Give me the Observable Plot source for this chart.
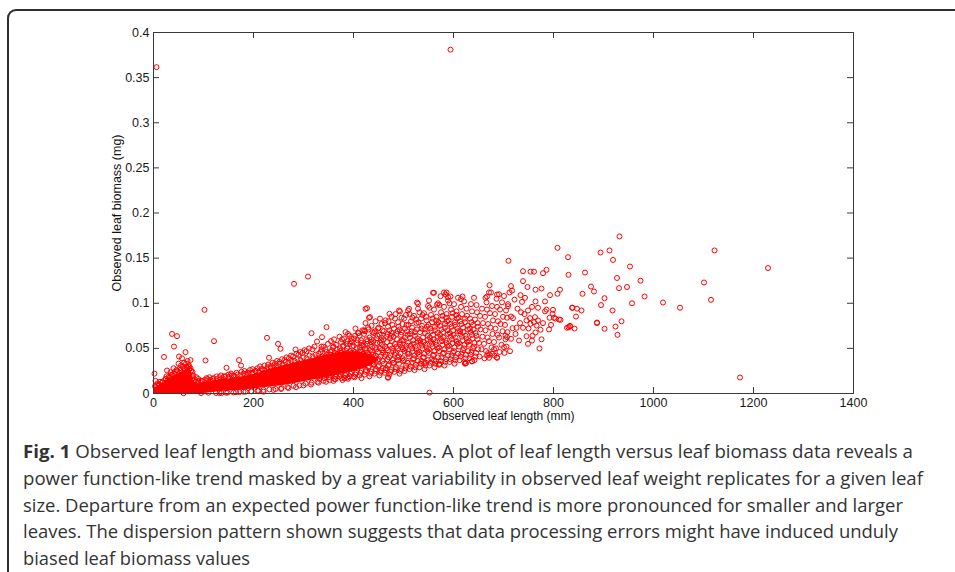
<!DOCTYPE html>
<html><head><meta charset="utf-8">
<script src="https://cdn.jsdelivr.net/npm/d3@7"></script>
<script src="https://cdn.jsdelivr.net/npm/@observablehq/plot@0.6"></script>
<style>
html,body{margin:0;padding:0;background:#fff;width:955px;height:572px;overflow:hidden;}
#chart{position:absolute;left:0;top:0;}
#card{position:absolute;left:7px;top:9px;width:1000px;height:620px;border-left:2px solid #2e2e2e;border-top:2px solid #2e2e2e;border-top-left-radius:9px;box-sizing:border-box;z-index:2;pointer-events:none;}
#caption{position:absolute;left:0;top:430px;}
#caption text{font-family:"Open Sans",sans-serif;font-size:18.5px;fill:#333;}
</style></head><body>
<div id="chart"></div>
<div id="card"></div>
<svg id="caption" width="955" height="142">
<text x="23" y="28" textLength="890" lengthAdjust="spacingAndGlyphs"><tspan font-weight="bold">Fig. 1</tspan> Observed leaf length and biomass values. A plot of leaf length versus leaf biomass data reveals a</text>
<text x="23" y="55" textLength="900" lengthAdjust="spacingAndGlyphs">power function-like trend masked by a great variability in observed leaf weight replicates for a given leaf</text>
<text x="23" y="81.7" textLength="880" lengthAdjust="spacingAndGlyphs">size. Departure from an expected power function-like trend is more pronounced for smaller and larger</text>
<text x="23" y="108.3" textLength="875" lengthAdjust="spacingAndGlyphs">leaves. The dispersion pattern shown suggests that data processing errors might have induced unduly</text>
<text x="23" y="135" textLength="227" lengthAdjust="spacingAndGlyphs">biased leaf biomass values</text>
</svg>
<script>
// ---- axis ticks and labels ----
const xTicks = [0, 200, 400, 600, 800, 1000, 1200, 1400];
const xTickLabels = ["0", "200", "400", "600", "800", "1000", "1200", "1400"];
const yTicks = [0, 0.05, 0.1, 0.15, 0.2, 0.25, 0.3, 0.35, 0.4];
const yTickLabels = ["0", "0.05", "0.1", "0.15", "0.2", "0.25", "0.3", "0.35", "0.4"];
const xAxisLabel = "Observed leaf length (mm)";
const yAxisLabel = "Observed leaf biomass (mg)";

// ---- saturated core of overlapping observations (leaf length, biomass range) ----
const coreLength = [0, 10, 20, 30, 40, 50, 60, 70, 75, 80, 86, 100, 130, 160, 200, 230, 260, 290, 320, 350, 380, 410, 435, 450];
const coreLow    = [0, 0, 0, 0, 0, 0, 0, 0, 0, 0, 0, 0, 0.002, 0.003, 0.005, 0.007, 0.009, 0.012, 0.015, 0.018, 0.022, 0.026, 0.031, 0.036];
const coreHigh   = [0.006, 0.008, 0.012, 0.016, 0.019, 0.022, 0.025, 0.026, 0.024, 0.016, 0.011, 0.012, 0.015, 0.017, 0.021, 0.026, 0.031, 0.035, 0.039, 0.043, 0.046, 0.046, 0.043, 0.038];

// ---- small leaves and edges of the dense core [length mm, biomass mg] ----
const smallLeafPoints = [
[2,0.022],[4,0.014],[6,0.3616],[8,0.011],[11,0.009],[13,0.013],[17,0.012],[21,0.0405],[24,0.016],[27,0.0255],
[29,0.015],[34,0.0236],[33,0.018],[37,0.066],[38,0.021],[41,0.052],[43,0.024],[47,0.0635],[46,0.026],[51,0.041],
[53,0.028],[55,0.031],[57,0.039],[59,0.030],[62,0.027],[64,0.0458],[65,0.033],[67,0.029],[68,0.036],[71,0.031],
[72,0.027],[74,0.037],[75,0.025],[77,0.020],[79,0.017],[80,0.014],[86,0.018],[90,0.016],[97,0.014],[102,0.0927],
[104,0.0366],[106,0.017],[112,0.018],[118,0.016],[121,0.058],[126,0.019],[132,0.0005],[135,0.020],[141,0.019],[146,0.0285],
[150,0.021],[155,0.022],[160,0.020],[166,0.023],[171,0.037],[175,0.031],[176,0.024],[182,0.025],[188,0.023],[193,0.026],
[198,0.027],[204,0.025],[208,0.028],[213,0.030],[218,0.027],[222,0.031],[227,0.0617],[229,0.032],[231,0.0396],[234,0.030],
[238,0.034],[243,0.033],[247,0.036],[249,0.055],[252,0.035],[254,0.0495],[257,0.038],[262,0.037],[266,0.040],[271,0.039],
[275,0.042],[279,0.041],[281,0.1215],[284,0.0488],[286,0.044],[290,0.043],[294,0.046],[298,0.045],[302,0.048],[306,0.047],
[309,0.1296],[311,0.050],[316,0.0668],[318,0.049],[322,0.052],[327,0.0576],[337,0.0624],[346,0.0735],[384,0.068],[421,0.070],
[60,0.0003],[95,0.0005],[110,0.0008],[125,0.0006],[145,0.001],[165,0.0015],[180,0.002],[195,0.0025],[210,0.003],[220,0.002],
[240,0.004],[255,0.005],[270,0.006],[285,0.007],[300,0.009],[315,0.010],[330,0.012],[345,0.013],[360,0.014],[389,0.0163],
[3,0.008],[7,0.009],[12,0.010],[18,0.013],[24,0.016],[30,0.018],[36,0.021],[42,0.022],[48,0.025],[54,0.026],
[60,0.028],[66,0.029],[70,0.030],[74,0.028],[78,0.024],[80,0.020],[14,0.006],[22,0.008],[32,0.011],[44,0.016],
[56,0.020],[63,0.022],[69,0.024],[26,0.019],[40,0.028],[50,0.033],[61,0.034],
[85,0.013],[90,0.014],[90,0.012],[96,0.014],[102,0.015],[108,0.016],[114,0.015],[120,0.017],[126,0.016],[132,0.018],
[138,0.017],[144,0.019],[150,0.018],[156,0.020],[162,0.019],[168,0.021],[174,0.020],[180,0.022],[186,0.021],[192,0.023],
[198,0.023],[204,0.025],[210,0.024],[216,0.027],[222,0.026],[228,0.029],[234,0.028],[240,0.031],[246,0.030],[252,0.033],
[258,0.032],[264,0.035],[270,0.034],[276,0.036],[282,0.036],[288,0.038],[294,0.037],[300,0.040],[306,0.039],[312,0.042],
[318,0.041],[324,0.043],
[136,0.0005],[148,0.001],[160,0.0012],[172,0.0015],[184,0.002],[196,0.0025],[208,0.003],[220,0.004],[232,0.0045],[244,0.005],
[256,0.006],[268,0.007],[280,0.0085],[292,0.009],[304,0.011],[316,0.012],[328,0.013],[340,0.014],[352,0.015],[364,0.016],
[376,0.017],[388,0.018],[400,0.019]
];

// ---- middle-sized leaves, the main cloud [length mm, biomass mg] ----
const midLeafPoints = [
[332,0.016],[335,0.021],[331,0.027],[337,0.031],[333,0.036],[338,0.041],[334,0.046],[336,0.052],[339,0.024],[330,0.044],
[342,0.017],[345,0.023],[341,0.029],[348,0.034],[343,0.038],[347,0.043],[344,0.049],[349,0.055],[346,0.020],[341,0.040],
[351,0.018],[356,0.022],[353,0.027],[358,0.032],[352,0.037],[357,0.041],[354,0.046],[359,0.051],[355,0.058],[352,0.025],
[362,0.016],[366,0.021],[361,0.026],[368,0.030],[364,0.035],[369,0.040],[363,0.045],[367,0.049],[365,0.054],[361,0.060],[368,0.025],
[372,0.019],[376,0.024],[371,0.028],[378,0.033],[374,0.037],[377,0.042],[373,0.047],[379,0.052],[375,0.057],[372,0.063],[378,0.015],
[382,0.017],[385,0.022],[381,0.027],[388,0.031],[384,0.036],[389,0.040],[383,0.044],[387,0.050],[386,0.055],[381,0.061],[389,0.066],[384,0.026],
[392,0.019],[396,0.024],[391,0.029],[398,0.034],[394,0.038],[399,0.043],[393,0.047],[397,0.052],[395,0.058],[392,0.064],[398,0.028],
[402,0.018],[405,0.023],[401,0.028],[408,0.032],[404,0.037],[409,0.041],[403,0.046],[407,0.050],[406,0.056],[401,0.061],[409,0.067],[404,0.072],
[412,0.020],[416,0.025],[411,0.030],[418,0.035],[414,0.039],[419,0.044],[413,0.048],[417,0.053],[415,0.059],[412,0.064],[418,0.070],[416,0.017],
[422,0.021],[425,0.026],[421,0.031],[428,0.036],[424,0.040],[429,0.045],[423,0.050],[427,0.055],[426,0.060],[421,0.066],[429,0.073],[424,0.078],
[432,0.019],[436,0.024],[431,0.030],[438,0.034],[434,0.039],[439,0.043],[433,0.048],[437,0.052],[435,0.057],[432,0.062],[438,0.068],[436,0.075],
[442,0.022],[445,0.027],[441,0.032],[448,0.037],[444,0.042],[449,0.046],[443,0.051],[447,0.056],[446,0.061],[441,0.067],[449,0.072],[444,0.080],
[452,0.020],[456,0.025],[451,0.031],[458,0.036],[454,0.041],[459,0.045],[453,0.050],[457,0.054],[455,0.059],[452,0.065],[458,0.070],[456,0.077],[453,0.083],
[462,0.023],[465,0.028],[461,0.033],[468,0.038],[464,0.043],[469,0.048],[463,0.052],[467,0.057],[466,0.063],[461,0.069],[469,0.074],[464,0.081],
[472,0.021],[476,0.026],[471,0.032],[478,0.037],[474,0.042],[479,0.047],[473,0.053],[477,0.058],[475,0.064],[472,0.070],[478,0.076],[476,0.085],
[482,0.024],[485,0.029],[481,0.034],[488,0.040],[484,0.045],[489,0.050],[483,0.055],[487,0.060],[486,0.066],[481,0.072],[489,0.079],[484,0.088],
[492,0.022],[496,0.027],[491,0.033],[498,0.039],[494,0.044],[499,0.049],[493,0.054],[497,0.059],[495,0.065],[492,0.071],[498,0.077],[496,0.084],[493,0.091],
[502,0.025],[505,0.031],[501,0.037],[508,0.044],[504,0.050],[509,0.056],[503,0.062],[507,0.069],[506,0.076],[501,0.083],[509,0.092],
[512,0.027],[516,0.034],[511,0.041],[518,0.047],[514,0.053],[519,0.059],[513,0.066],[517,0.073],[515,0.080],[512,0.088],
[522,0.026],[525,0.032],[521,0.039],[528,0.045],[524,0.052],[529,0.058],[523,0.064],[527,0.071],[526,0.078],[521,0.086],[529,0.094],
[532,0.029],[536,0.036],[531,0.043],[538,0.050],[534,0.056],[539,0.062],[533,0.068],[537,0.075],[535,0.083],[532,0.090],
[542,0.027],[545,0.034],[541,0.040],[548,0.047],[544,0.054],[549,0.060],[543,0.067],[547,0.074],[546,0.081],[541,0.089],[549,0.097],
[552,0.031],[556,0.038],[551,0.045],[558,0.052],[554,0.058],[559,0.065],[553,0.072],[557,0.079],[555,0.087],[552,0.095],
[562,0.029],[565,0.036],[561,0.043],[568,0.050],[564,0.057],[569,0.063],[563,0.070],[567,0.077],[566,0.085],[561,0.093],[569,0.100],
[572,0.033],[576,0.040],[571,0.047],[578,0.054],[574,0.061],[579,0.068],[573,0.075],[577,0.082],[575,0.090],[572,0.098],
[582,0.031],[585,0.038],[581,0.045],[588,0.052],[584,0.059],[589,0.066],[583,0.073],[587,0.080],[586,0.088],[581,0.096],[589,0.103],
[592,0.035],[596,0.042],[591,0.049],[598,0.056],[594,0.063],[599,0.070],[593,0.077],[597,0.085],[595,0.093],[592,0.100],
[602,0.033],[605,0.040],[601,0.047],[608,0.055],[604,0.062],[609,0.069],[603,0.076],[607,0.083],[606,0.091],[601,0.099],[609,0.106],
[612,0.037],[616,0.044],[611,0.052],[618,0.059],[614,0.066],[619,0.073],[613,0.080],[617,0.088],[615,0.096],
[622,0.035],[625,0.043],[621,0.050],[628,0.057],[624,0.064],[629,0.071],[623,0.079],[627,0.086],[626,0.094],[621,0.102],
[632,0.039],[636,0.046],[631,0.054],[638,0.061],[634,0.068],[639,0.076],[633,0.083],[637,0.091],[635,0.099],
[642,0.037],[645,0.045],[641,0.052],[648,0.060],[644,0.067],[649,0.074],[643,0.082],[647,0.090],[646,0.098],[641,0.106],
[652,0.041],[656,0.049],[651,0.056],[658,0.063],[654,0.071],[659,0.078],[653,0.086],[657,0.094],
[662,0.039],[665,0.047],[661,0.055],[668,0.062],[664,0.070],[669,0.077],[663,0.085],[667,0.093],[666,0.101],
[672,0.043],[676,0.051],[671,0.058],[678,0.066],[674,0.073],[679,0.081],[673,0.089],[677,0.097],
[682,0.042],[685,0.050],[681,0.057],[688,0.065],[684,0.072],[689,0.080],[683,0.088],[687,0.096],[686,0.105],
[692,0.046],[696,0.054],[691,0.062],[698,0.069],[694,0.077],[699,0.085],[693,0.093],[697,0.101],
[702,0.045],[706,0.052],[704,0.060],[708,0.068],[703,0.076],[707,0.084],[705,0.092],[709,0.099],[701,0.108],
[427,0.0945],[433,0.0846],[424,0.0938],[431,0.0839],[472,0.0883],[491,0.092],[511,0.0938],[527,0.1008],[529,0.0994],[551,0.103],
[567,0.0986],[559,0.1116],[561,0.1116],[574,0.1078],[581,0.112],[584,0.1097],[586,0.1119],[589,0.1067],[594,0.1075],[615,0.1045],
[618,0.1075],[664,0.106],[667,0.1075],[671,0.112],[675,0.112],[687,0.1097],[691,0.110],[469,0.018],[469,0.0174],[541,0.0336],
[561,0.0365],[571,0.032],[572,0.032],[623,0.033],[624,0.0336],[637,0.0355],[637,0.0358],[667,0.042],[677,0.044],[687,0.0396],
[552,0.001],[594,0.381]
];

// ---- more middle-sized leaves filling the densest part of the cloud ----
const midLeafExtraPoints = [
[334,0.019],[339,0.034],[331,0.039],[336,0.049],[333,0.029],
[344,0.021],[349,0.026],[342,0.036],[346,0.046],[340,0.052],
[354,0.020],[359,0.035],[351,0.043],[357,0.048],[353,0.030],
[364,0.019],[369,0.028],[362,0.038],[366,0.043],[360,0.052],
[374,0.021],[379,0.031],[371,0.035],[376,0.045],[373,0.050],[377,0.060],
[384,0.020],[389,0.029],[382,0.039],[386,0.047],[380,0.053],[388,0.058],
[394,0.022],[399,0.031],[391,0.036],[397,0.045],[393,0.055],[396,0.061],
[404,0.021],[409,0.030],[402,0.039],[406,0.044],[400,0.053],[408,0.059],[403,0.064],
[414,0.023],[419,0.032],[411,0.037],[417,0.046],[413,0.051],[416,0.056],[410,0.067],
[424,0.024],[429,0.029],[422,0.038],[426,0.048],[420,0.053],[428,0.058],[423,0.069],
[434,0.022],[439,0.032],[431,0.036],[437,0.046],[433,0.054],[436,0.060],[430,0.071],
[444,0.025],[449,0.030],[442,0.040],[446,0.049],[440,0.058],[448,0.064],[443,0.069],
[454,0.023],[459,0.028],[451,0.038],[457,0.048],[453,0.056],[456,0.062],[450,0.073],
[464,0.026],[469,0.031],[462,0.041],[466,0.050],[460,0.060],[468,0.066],[463,0.078],
[474,0.024],[479,0.034],[471,0.040],[477,0.050],[473,0.061],[476,0.067],[470,0.080],
[484,0.027],[489,0.037],[482,0.043],[486,0.052],[480,0.063],[488,0.069],[483,0.083],
[494,0.025],[499,0.036],[491,0.041],[497,0.051],[493,0.057],[496,0.068],[490,0.074],
[504,0.028],[509,0.034],[502,0.047],[506,0.053],[500,0.059],[508,0.065],[503,0.072],[505,0.087],
[514,0.030],[519,0.038],[511,0.044],[517,0.050],[513,0.062],[516,0.069],[510,0.076],[518,0.084],
[524,0.029],[529,0.036],[522,0.042],[526,0.049],[520,0.055],[528,0.061],[523,0.068],[525,0.082],
[534,0.033],[539,0.040],[531,0.046],[537,0.053],[533,0.059],[536,0.072],[530,0.079],[538,0.087],
[544,0.031],[549,0.037],[542,0.044],[546,0.051],[540,0.057],[548,0.064],[543,0.071],[545,0.085],
[554,0.034],[559,0.042],[551,0.049],[557,0.055],[553,0.062],[556,0.069],[550,0.076],[558,0.083],
[564,0.033],[569,0.040],[562,0.047],[566,0.054],[560,0.060],[568,0.067],[563,0.074],[565,0.081],
[574,0.036],[579,0.044],[571,0.051],[577,0.058],[573,0.065],[576,0.071],[570,0.079],[578,0.086],
[584,0.035],[589,0.042],[582,0.049],[586,0.056],[580,0.062],[588,0.070],[583,0.077],[585,0.084],
[594,0.038],[599,0.045],[591,0.053],[597,0.060],[593,0.067],[596,0.074],[590,0.081],[598,0.089],
[604,0.037],[609,0.044],[602,0.051],[606,0.058],[600,0.065],[608,0.072],[603,0.079],[605,0.087],
[614,0.041],[619,0.048],[611,0.056],[617,0.063],[613,0.069],[616,0.077],[610,0.084],
[624,0.039],[629,0.047],[622,0.054],[626,0.061],[620,0.068],[628,0.075],[623,0.083],
[634,0.043],[639,0.050],[631,0.058],[637,0.065],[633,0.072],[636,0.079],
[644,0.041],[649,0.049],[642,0.056],[646,0.064],[640,0.071],[648,0.078]
];

// ---- large leaves, sparse region [length mm, biomass mg] ----
const largeLeafPoints = [
[932,0.174],[808,0.1614],[912,0.1585],[894,0.1562],[1122,0.1585],[829,0.151],[919,0.148],[710,0.147],[953,0.1407],[1229,0.139],
[739,0.1355],[754,0.135],[761,0.135],[786,0.137],[779,0.1333],[863,0.134],[830,0.1315],[927,0.128],[974,0.125],[1101,0.123],
[739,0.1245],[672,0.120],[715,0.119],[717,0.114],[748,0.118],[875,0.1185],[881,0.113],[931,0.1167],[947,0.118],[764,0.115],
[776,0.1163],[813,0.115],[808,0.1105],[858,0.1105],[793,0.109],[902,0.1056],[982,0.1075],[1019,0.1008],[1115,0.1038],[895,0.098],
[957,0.100],[1053,0.095],[838,0.095],[847,0.094],[856,0.092],[918,0.092],[845,0.0853],[799,0.0927],[798,0.0883],[804,0.083],
[814,0.0816],[936,0.080],[887,0.078],[827,0.0728],[833,0.0742],[842,0.072],[902,0.0717],[924,0.0742],[928,0.065],[1173,0.0177],
[772,0.0499],[734,0.109],[743,0.106],[737,0.1015],[764,0.102],[783,0.102],[769,0.095],[783,0.091],[749,0.092],[735,0.090],
[837,0.095],[792,0.0839],[801,0.0839],[811,0.082],[709,0.0967],[715,0.0853],[719,0.0835],[718,0.0724],[726,0.0728],[739,0.0728],
[750,0.072],[754,0.0772],[766,0.0753],[764,0.0676],[774,0.0706],[791,0.0709],[830,0.0735],[833,0.075],[753,0.0835],[746,0.081],
[761,0.079],[769,0.081],[779,0.078],[763,0.0846],[887,0.0787],[731,0.0587],[746,0.0635],[749,0.055],[757,0.0587],[707,0.0624],
[715,0.0606],[713,0.0469],[701,0.0513],[704,0.0643],[671,0.0396],[681,0.049],[687,0.0399],[669,0.0447],[625,0.0336],[712,0.112],
[722,0.104],[728,0.094],[742,0.088],[757,0.096],[786,0.093],[795,0.076],[724,0.066],[733,0.078],[758,0.064],[776,0.060]
];

const observations = [...smallLeafPoints, ...midLeafPoints, ...midLeafExtraPoints, ...largeLeafPoints]
  .map(([length, biomass]) => ({length, biomass}));
const core = coreLength.map((length, i) => ({length, low: coreLow[i], high: coreHigh[i]}));

const axisColor = "#3a3a3a";
const labelFont = 12.5;
const chart = Plot.plot({
  width: 955,
  height: 420,
  marginLeft: 153,
  marginRight: 102,
  marginTop: 32,
  marginBottom: 27,
  x: {domain: [0, 1400], axis: null},
  y: {domain: [0, 0.4], axis: null},
  style: {fontFamily: "'Liberation Sans', Arial, sans-serif", fontSize: "12.5px", color: "#1a1a1a", background: "transparent", overflow: "visible"},
  marks: [
    Plot.areaY(core, {x: "length", y1: "low", y2: "high", fill: "#ff0000", curve: "catmull-rom"}),
    Plot.dot(observations, {x: "length", y: "biomass", r: 2.5, stroke: "#ff0000", strokeWidth: 1, fill: "none"}),
    Plot.frame({stroke: axisColor, strokeWidth: 1}),
    Plot.ruleX(xTicks, {x: d => d, y1: 0, y2: 0.0066, stroke: axisColor}),
    Plot.ruleX(xTicks, {x: d => d, y1: 0.4, y2: 0.4 - 0.0066, stroke: axisColor}),
    Plot.ruleY(yTicks, {y: d => d, x1: 0, x2: 12, stroke: axisColor}),
    Plot.ruleY(yTicks, {y: d => d, x1: 1400, x2: 1388, stroke: axisColor}),
    Plot.text(xTicks, {x: d => d, frameAnchor: "bottom", dy: 9, textAnchor: "middle", lineAnchor: "middle", text: (d, i) => xTickLabels[i], fontSize: labelFont, fill: "#1a1a1a"}),
    Plot.text(yTicks, {y: d => d, frameAnchor: "left", dx: -4, textAnchor: "end", lineAnchor: "middle", text: (d, i) => yTickLabels[i], fontSize: labelFont, fill: "#1a1a1a"}),
    Plot.text([xAxisLabel], {frameAnchor: "bottom", dy: 23, textAnchor: "middle", lineAnchor: "middle", text: d => d, fontSize: 12, fill: "#111"}),
    Plot.text([yAxisLabel], {frameAnchor: "left", dx: -37, rotate: -90, textAnchor: "middle", lineAnchor: "middle", text: d => d, fontSize: 12.5, fill: "#111"})
  ]
});
document.getElementById("chart").appendChild(chart);
</script>
</body></html>
